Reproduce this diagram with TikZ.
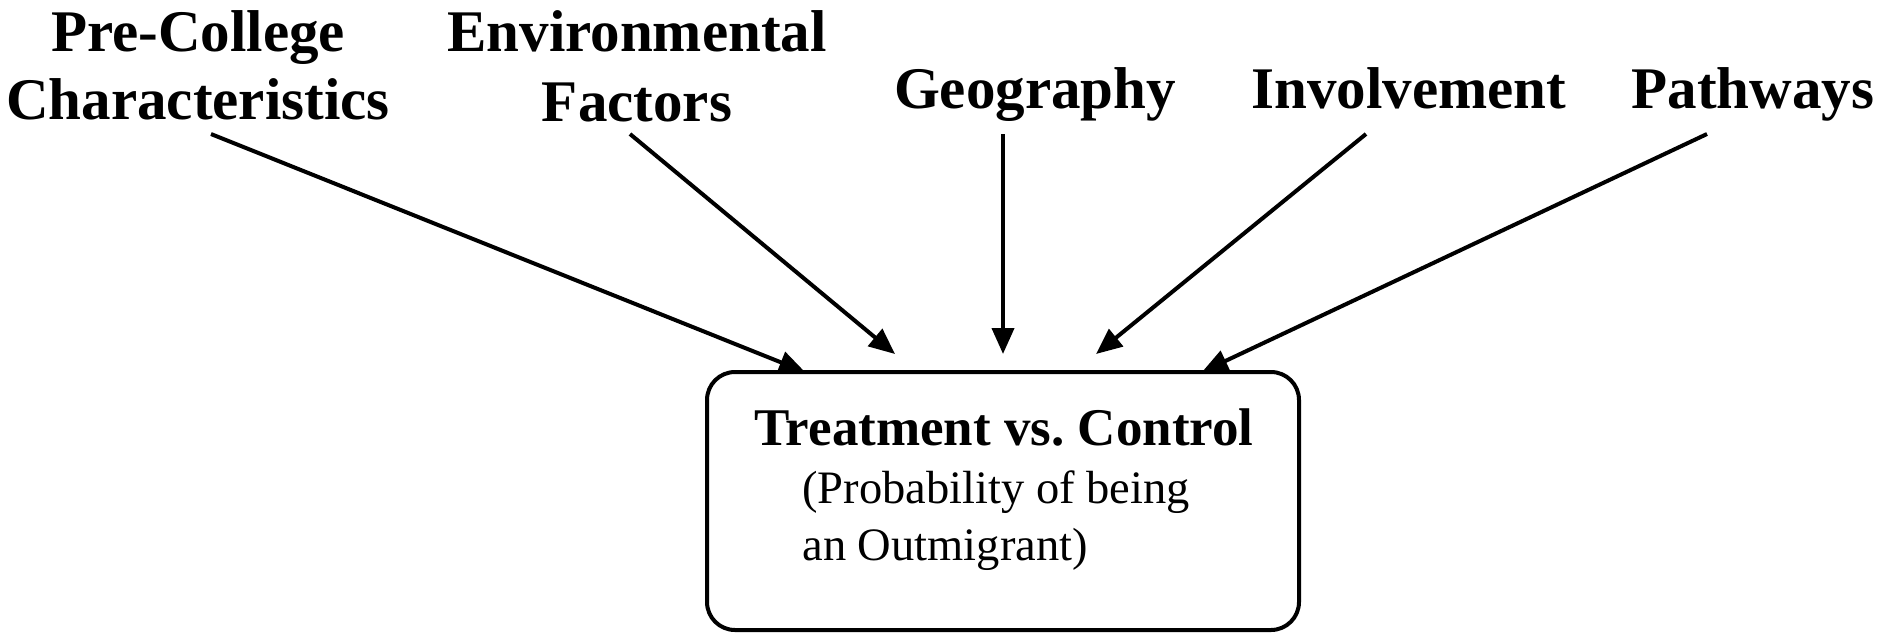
\documentclass[tikz,border=0pt]{standalone}
\usepackage{fontspec}
\setmainfont{Liberation Serif}
\usetikzlibrary{arrows.meta}
\tikzset{
  lbl/.style={anchor=base, inner sep=0pt, align=center, font=\fontsize{29.5}{34}\selectfont\bfseries},
  arr/.style={line width=2pt, -{Triangle[length=13pt,width=11pt]}},
  outbox/.style={draw, line width=2pt, rounded corners=14pt, minimum width=296pt, minimum height=129pt, inner sep=0pt},
  ttl/.style={anchor=base, inner sep=0pt, font=\fontsize{26.5}{30}\selectfont\bfseries},
  sub/.style={anchor=base west, inner sep=0pt, font=\fontsize{23.25}{28}\selectfont}
}
\begin{document}
\begin{tikzpicture}[x=0.5pt,y=-0.5pt]
\useasboundingbox (0,0) rectangle (1885,633);
% labels (anchor base = baseline of last line)
\node[lbl] (pc) at (198,119) {Pre-College\\Characteristics};
\node[lbl] (env) at (637,121) {Environmental\\[1pt]Factors};
\node[lbl] (geo) at (1035,108) {Geography};
\node[lbl] (inv) at (1409,108) {Involvement};
\node[lbl] (path) at (1753,108) {Pathways};
% box
\node[outbox] (box) at (1003,501) {};
\node[ttl] (t1) at (1004,445) {Treatment vs.\ Control};
\node[sub] (t2) at (802,503) {(Probability of being};
\node[sub] (t3) at (802,560) {an Outmigrant)};
% arrow endpoints
\coordinate (s1) at (211,134);
\coordinate (e1) at (805,372);
\coordinate (s2) at (630,134);
\coordinate (e2) at (895,354);
\coordinate (s3) at (1003,134);
\coordinate (e3) at (1003,354);
\coordinate (s4) at (1366,134);
\coordinate (e4) at (1096,354);
\coordinate (s5) at (1707,134);
\coordinate (e5) at (1202,372);
\draw[arr] (s1) -- (e1);
\draw[arr] (s2) -- (e2);
\draw[arr] (s3) -- (e3);
\draw[arr] (s4) -- (e4);
\draw[arr] (s5) -- (e5);
\end{tikzpicture}
\end{document}
